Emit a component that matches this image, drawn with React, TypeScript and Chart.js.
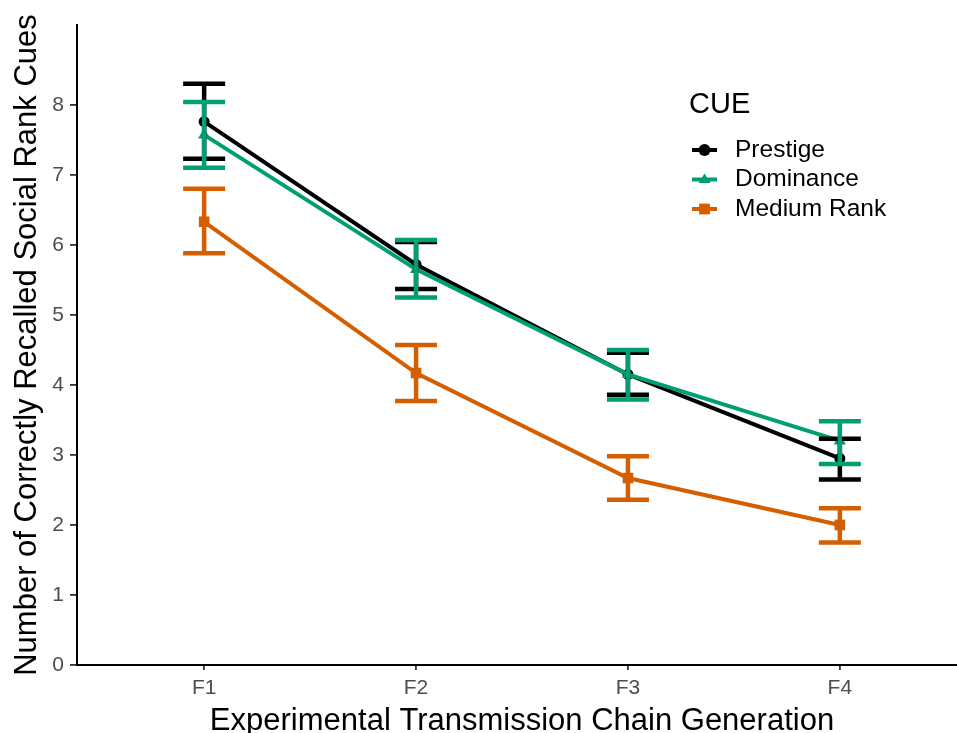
import React, { useEffect, useRef } from "react";
import { Chart, registerables } from "chart.js";

Chart.register(...registerables);

const categories = ["F1", "F2", "F3", "F4"];
const yTicks = [0, 1, 2, 3, 4, 5, 6, 7, 8];

const seriesNames = ["Prestige", "Dominance", "Medium Rank"];
const seriesColors = ["#000000", "#009E73", "#D55E00"];
const seriesShapes = ["circle", "triangle", "rect"];

const prestigeMean = [7.76, 5.72, 4.15, 2.95];
const prestigeLow = [7.23, 5.37, 3.86, 2.65];
const prestigeHigh = [8.3, 6.04, 4.46, 3.23];

const dominanceMean = [7.57, 5.65, 4.15, 3.2];
const dominanceLow = [7.1, 5.25, 3.79, 2.87];
const dominanceHigh = [8.04, 6.07, 4.5, 3.48];

const mediumMean = [6.33, 4.17, 2.67, 2.0];
const mediumLow = [5.88, 3.77, 2.36, 1.75];
const mediumHigh = [6.8, 4.57, 2.98, 2.24];

const means = [prestigeMean, dominanceMean, mediumMean];
const lows = [prestigeLow, dominanceLow, mediumLow];
const highs = [prestigeHigh, dominanceHigh, mediumHigh];

const FONT = "'Liberation Sans', Arial, sans-serif";

function drawMarker(ctx: CanvasRenderingContext2D, shape: string, x: number, y: number, r: number, color: string) {
  ctx.save();
  ctx.fillStyle = color;
  ctx.beginPath();
  if (shape === "circle") {
    ctx.arc(x, y, r, 0, Math.PI * 2);
  } else if (shape === "triangle") {
    const h = r * 1.5;
    ctx.moveTo(x, y - h * 0.66);
    ctx.lineTo(x + r, y + h * 0.4);
    ctx.lineTo(x - r, y + h * 0.4);
    ctx.closePath();
  } else {
    ctx.rect(x - r * 0.9, y - r * 0.9, r * 1.8, r * 1.8);
  }
  ctx.fill();
  ctx.restore();
}

const errorBarPlugin = {
  id: "errorBars",
  afterDatasetsDraw(chart: any) {
    const ctx = chart.ctx;
    const xs = chart.scales.x;
    const ys = chart.scales.y;
    ctx.save();
    ctx.lineWidth = 4.5;
    ctx.lineCap = "butt";
    for (let s = 0; s < means.length; s++) {
      ctx.strokeStyle = seriesColors[s];
      for (let i = 0; i < categories.length; i++) {
        const x = xs.getPixelForValue(i + 1);
        const yl = ys.getPixelForValue(lows[s][i]);
        const yh = ys.getPixelForValue(highs[s][i]);
        const hw = 21;
        ctx.beginPath();
        ctx.moveTo(x, yl);
        ctx.lineTo(x, yh);
        ctx.moveTo(x - hw, yl);
        ctx.lineTo(x + hw, yl);
        ctx.moveTo(x - hw, yh);
        ctx.lineTo(x + hw, yh);
        ctx.stroke();
      }
    }
    ctx.restore();
  },
};

const legendPlugin = {
  id: "customLegend",
  afterDraw(chart: any) {
    const ctx = chart.ctx;
    ctx.save();
    ctx.fillStyle = "#000";
    ctx.textBaseline = "middle";
    ctx.textAlign = "left";
    ctx.font = `29px ${FONT}`;
    ctx.fillText("CUE", 689, 105);
    ctx.font = `24.5px ${FONT}`;
    const ys0 = 150;
    for (let s = 0; s < seriesNames.length; s++) {
      const y = ys0 + s * 29.5;
      ctx.strokeStyle = seriesColors[s];
      ctx.lineWidth = 4;
      ctx.beginPath();
      ctx.moveTo(692, y);
      ctx.lineTo(717, y);
      ctx.stroke();
      drawMarker(ctx, seriesShapes[s], 704.5, y, 6, seriesColors[s]);
      ctx.fillStyle = "#000";
      ctx.fillText(seriesNames[s], 735, y);
    }
    ctx.restore();
  },
};

export default function App() {
  const ref = useRef<HTMLCanvasElement>(null);
  useEffect(() => {
    if (!ref.current) return;
    const datasets = means.map((m, s) => ({
      label: seriesNames[s],
      data: m.map((v, i) => ({ x: i + 1, y: v })),
      borderColor: seriesColors[s],
      backgroundColor: seriesColors[s],
      borderWidth: 4,
      pointStyle: seriesShapes[s],
      pointRadius: s === 0 ? 5.5 : s === 1 ? 7 : 7.5,
      pointBorderWidth: 0,
      pointBackgroundColor: seriesColors[s],
      showLine: true,
      order: 3 - s,
    }));
    const chart = new Chart(ref.current, {
      type: "scatter",
      data: { datasets },
      plugins: [errorBarPlugin, legendPlugin],
      options: {
        animation: false,
        responsive: false,
        devicePixelRatio: 1,
        layout: { padding: { top: 25, right: 13, left: 0, bottom: 0 } },
        plugins: { legend: { display: false }, tooltip: { enabled: false } },
        scales: {
          x: {
            type: "linear",
            min: 0.4,
            max: 4.6,
            afterBuildTicks: (scale: any) => {
              scale.ticks = categories.map((_, i) => ({ value: i + 1 }));
            },
            afterFit: (scale: any) => {
              scale.height = 68;
            },
            ticks: {
              callback: (v: any) => categories[Math.round(v) - 1] ?? "",
              color: "#4d4d4d",
              font: { family: FONT, size: 21 },
              padding: 6,
              maxRotation: 0,
            },
            grid: {
              display: true,
              drawOnChartArea: false,
              drawTicks: true,
              tickLength: 5,
              color: "#333333",
              lineWidth: 1.8,
            },
            border: { display: true, color: "#000", width: 2 },
            title: {
              display: true,
              text: "Experimental Transmission Chain Generation",
              color: "#000",
              font: { family: FONT, size: 31, lineHeight: 1 },
              padding: { top: 0, bottom: -4 },
            },
          },
          y: {
            type: "linear",
            min: 0,
            max: 9.14,
            afterBuildTicks: (scale: any) => {
              scale.ticks = yTicks.map((v) => ({ value: v }));
            },
            afterFit: (scale: any) => {
              scale.width = 77;
            },
            ticks: {
              color: "#4d4d4d",
              font: { family: FONT, size: 21 },
              padding: 6,
            },
            grid: {
              display: true,
              drawOnChartArea: false,
              drawTicks: true,
              tickLength: 7,
              color: "#333333",
              lineWidth: 1.8,
            },
            border: { display: true, color: "#000", width: 2 },
            title: {
              display: true,
              text: "Number of Correctly Recalled Social Rank Cues",
              color: "#000",
              font: { family: FONT, size: 31, lineHeight: 1 },
              padding: { top: 12, bottom: 0 },
            },
          },
        },
      },
    });
    return () => chart.destroy();
  }, []);
  return (
    <div style={{ position: "absolute", left: 0, top: 0, width: 957, height: 733, overflow: "hidden" }}>
      <canvas
        ref={ref}
        width={980}
        height={733}
        style={{ display: "block", width: 980, height: 733 }}
      />
    </div>
  );
}
